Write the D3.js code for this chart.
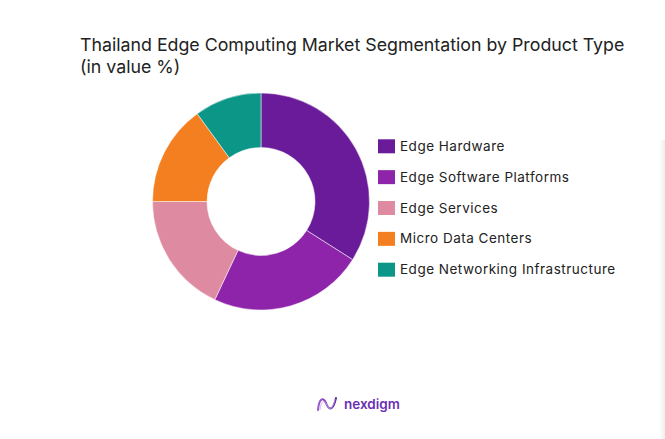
<!DOCTYPE html>
<html><head><meta charset="utf-8">
<script src="https://cdn.jsdelivr.net/npm/d3@7"></script>
<style>body{margin:0;background:#fff;} svg{display:block}</style>
</head><body>
<svg id="chart" width="665" height="439"></svg>
<script>
const categories = ["Edge Hardware","Edge Software Platforms","Edge Services","Micro Data Centers","Edge Networking Infrastructure"];
const values = [34, 23, 18, 15, 10];
const colors = ["#6a1b9a","#8e24aa","#de8aa0","#f47f20","#0b9688"];
const titleLines = ["Thailand Edge Computing Market Segmentation by Product Type","(in value %)"];
const brand = "nexdigm";

const svg = d3.select("#chart");
const font = "Inter, 'Open Sans', sans-serif";

// right-edge shadow
const defs = svg.append("defs");
const g1 = defs.append("linearGradient").attr("id","shade").attr("x1","0").attr("x2","1").attr("y1","0").attr("y2","0");
g1.append("stop").attr("offset","0").attr("stop-color","#000").attr("stop-opacity",0);
g1.append("stop").attr("offset","1").attr("stop-color","#000").attr("stop-opacity",0.07);
svg.append("rect").attr("x",659).attr("y",140).attr("width",6).attr("height",299).attr("fill","url(#shade)");

// title
const title = svg.append("g");
titleLines.forEach((t,i)=>{
  title.append("text").attr("x",80).attr("y",51 + i*22)
    .attr("font-family",font).attr("font-size",17).attr("fill","#222")
    .text(t);
});
{
  const n = title.select("text").node();
  const w = n.getComputedTextLength();
  const fs = 17 * 545 / w;
  title.selectAll("text").attr("font-size", Math.min(18, Math.max(15, fs)));
}

// donut
const cx = 261, cy = 201.5;
const pie = d3.pie().sort(null).value(d=>d.v);
const arc = d3.arc().innerRadius(54).outerRadius(108.5);
const data = categories.map((c,i)=>({c, v: values[i], col: colors[i]}));
svg.append("g").attr("transform",`translate(${cx},${cy})`)
  .selectAll("path").data(pie(data)).join("path")
  .attr("d",arc).attr("fill",d=>d.data.col)
  .attr("stroke","#fff").attr("stroke-width",0.5);

// legend
const y = d3.scalePoint().domain(categories).range([146.3, 269.7]);
const leg = svg.append("g");
const items = leg.selectAll("g").data(data).join("g")
  .attr("transform",d=>`translate(378,${y(d.c)})`);
items.append("rect").attr("x",0).attr("y",-7).attr("width",17).attr("height",14)
  .attr("fill",d=>d.col);
items.append("text").attr("x",22).attr("y",4.5)
  .attr("font-family",font).attr("font-size",13.5).attr("letter-spacing","0.5px").attr("fill","#222")
  .text(d=>d.c);

// logo
const lg = defs.append("linearGradient").attr("id","logoG").attr("x1","0").attr("x2","1");
lg.append("stop").attr("offset","0").attr("stop-color","#9b59d0");
lg.append("stop").attr("offset","1").attr("stop-color","#5b2a9c");
const logo = svg.append("g");
logo.append("path").attr("d","M318,410 C319,399 323,396 326,403 C329,411 333,411 336,398")
  .attr("fill","none").attr("stroke","url(#logoG)").attr("stroke-width",2).attr("stroke-linecap","round");
logo.append("path").attr("d","M320,410 C321,401 324,399 327,405 C330,412 333,408 335,399")
  .attr("fill","none").attr("stroke","#c9a6e8").attr("stroke-width",0.8);
logo.append("text").attr("x",344).attr("y",409).attr("font-family",font)
  .attr("font-size",13.5).attr("font-weight",600).attr("fill","#6b2fb3").text(brand);
</script>
</body></html>
